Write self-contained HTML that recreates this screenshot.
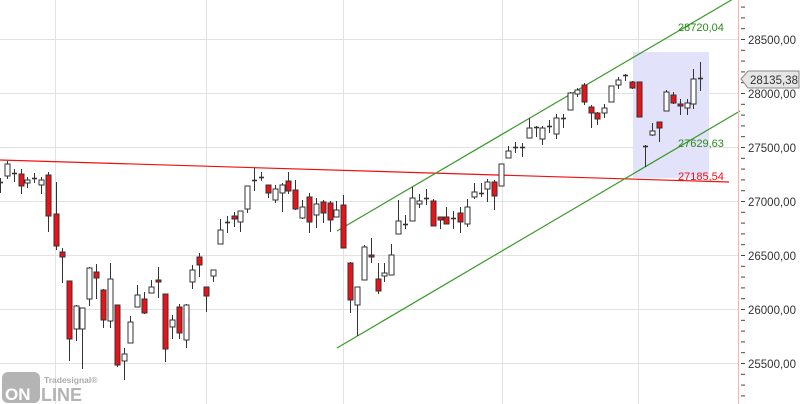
<!DOCTYPE html>
<html><head><meta charset="utf-8"><style>
body{margin:0;background:#fff;}
svg{display:block;font-family:"Liberation Sans",sans-serif;}
</style></head><body>
<svg id="c" width="800" height="404" viewBox="0 0 800 404" xmlns="http://www.w3.org/2000/svg">
<rect width="800" height="404" fill="#fff"/>
<g stroke="#e2e2e2" stroke-width="1">
<line x1="0" y1="39.5" x2="738" y2="39.5"/>
<line x1="0" y1="93.5" x2="738" y2="93.5"/>
<line x1="0" y1="147.5" x2="738" y2="147.5"/>
<line x1="0" y1="201.5" x2="738" y2="201.5"/>
<line x1="0" y1="255.5" x2="738" y2="255.5"/>
<line x1="0" y1="309.5" x2="738" y2="309.5"/>
<line x1="0" y1="363.5" x2="738" y2="363.5"/>
<line x1="55.5" y1="0" x2="55.5" y2="404"/>
<line x1="206.5" y1="0" x2="206.5" y2="404"/>
<line x1="343.5" y1="0" x2="343.5" y2="404"/>
<line x1="502.5" y1="0" x2="502.5" y2="404"/>
<line x1="638.5" y1="0" x2="638.5" y2="404"/>
</g>
<rect x="633" y="52" width="76" height="126" fill="#e2e2fa"/>
<line x1="0" y1="160" x2="729" y2="182" stroke="#f01010" stroke-width="1.2"/>
<line x1="337" y1="231" x2="745" y2="-8" stroke="#3a9a2a" stroke-width="1.2"/>
<line x1="337" y1="348" x2="740" y2="111" stroke="#3a9a2a" stroke-width="1.2"/>
<g id="cd"></g>
<line x1="738.5" y1="0" x2="738.5" y2="404" stroke="#f0b4b4"/>
<g id="tk" stroke="#444"></g>
<g font-size="11.5" fill="#333">
<text x="748" y="44">28500,00</text>
<text x="748" y="98">28000,00</text>
<text x="748" y="152">27500,00</text>
<text x="748" y="206">27000,00</text>
<text x="748" y="260">26500,00</text>
<text x="748" y="314">26000,00</text>
<text x="748" y="368">25500,00</text>
</g>
<path d="M741,79 L748,71 L799,71 L799,88 L748,88 Z" fill="#e6e6e6" stroke="#888"/>
<text x="750" y="84" font-size="11.5" fill="#333">28135,38</text>
<g font-size="11">
<text x="678" y="31" fill="#2a8a1a">28720,04</text>
<text x="678" y="147" fill="#2a8a1a">27629,63</text>
<text x="678" y="180" fill="#f01010">27185,54</text>
</g>
<rect x="2" y="372" width="38" height="31" rx="6" fill="#b4b4b4"/>
<text x="5" y="400" font-size="17" font-weight="bold" fill="#fff">ON</text>
<text x="41" y="401" font-size="18" font-weight="bold" fill="#b4b4b4">LINE</text>
<text x="44" y="383" font-size="8.5" font-weight="bold" fill="#aaa">Tradesignal®</text>
</svg>
<script>
var d=[
[0,182,184,178,193,0],[7,164,176,161,179,0],[14,173,173,169,182,0],[21,174,186,169,194,1],[27,180,183,177,188,0],[34,178,180,173,183,0],[41,180,185,177,194,0],[48,175,216,172,232,1],[56,214,246,182,250,1],[62,252,257,248,283,1],[69,281,339,281,361,1],[76,306,329,305,341,0],[82,308,329,308,369,0],[89,268,299,267,306,0],[96,272,278,264,299,1],[103,290,320,289,328,1],[110,279,321,263,328,0],[117,305,365,305,367,1],[124,354,361,348,380,0],[130,322,343,316,343,0],[137,295,307,285,307,0],[144,299,313,292,314,1],[151,287,293,280,293,0],[158,280,282,267,298,1],[165,294,349,294,362,1],[172,320,327,315,339,0],[179,307,333,304,339,1],[186,305,340,304,348,0],[192,270,282,265,289,0],[199,257,265,253,277,1],[206,287,296,287,312,1],[213,270,276,270,282,0],[220,230,244,219,244,0],[227,222,224,216,233,0],[234,216,219,212,227,1],[240,211,222,211,232,0],[247,186,209,186,213,0],[254,180,182,168,191,0],[261,177,179,172,181,0],[268,185,193,185,198,1],
[275,189,200,185,203,0],[282,185,193,183,212,0],[288,181,191,172,194,1],[295,190,209,180,210,1],[302,207,218,200,219,0],[309,197,222,193,233,1],[316,204,215,198,228,0],[323,202,213,200,223,1],[330,203,220,201,232,1],[336,210,217,201,217,0],[343,205,248,195,248,1],[350,263,300,262,313,1],[357,287,305,287,336,0],[364,247,280,245,280,0],[371,255,257,238,263,1],[378,279,291,263,294,1],[384,273,276,263,282,0],[391,255,275,244,275,0],[398,221,234,200,234,0],[405,224,226,215,229,0],[412,198,221,187,221,0],[419,201,204,194,208,0],[426,198,200,189,205,0],[433,201,226,199,226,1],[440,217,220,217,229,1],[446,217,224,207,224,1],[453,218,220,211,229,0],[460,213,222,207,233,1],[467,207,224,199,227,0],[474,192,197,183,199,0],[481,193,195,183,197,0],[487,182,189,179,202,0],[494,182,196,180,210,1],[501,164,186,164,186,0],
[508,151,158,146,158,0],[515,147,149,142,153,0],[522,147,149,143,157,0],[529,128,138,118,138,0],[536,127,129,126,137,0],[542,128,139,126,145,0],[549,126,128,120,133,0],[556,118,134,114,139,0],[563,118,120,114,128,0],[570,93,110,92,110,0],[577,90,94,88,97,0],[584,85,102,83,105,1],[591,107,113,105,128,1],[597,113,119,112,125,1],[604,108,113,104,118,0],[611,86,102,86,102,0],[618,80,85,77,89,0],[625,75,77,74,81,0],[632,82,88,81,89,1],[639,82,117,82,117,1],[645,146,148,145,167,0],[652,131,135,123,136,0],[659,122,128,122,142,1],[666,92,111,90,111,0],[673,95,103,92,104,1],[680,104,106,99,115,1],[687,103,108,99,115,0],[693,79,104,69,109,0],[700,78,80,62,91,0]];
var s='';
d.forEach(function(c){var x=c[0]+0.5;
s+='<line x1="'+x+'" y1="'+c[3]+'" x2="'+x+'" y2="'+c[4]+'" stroke="#333" stroke-width="1"/>';
var h=Math.max(c[2]-c[1],1);
if(h<=2&&!c[5]){s+='<line x1="'+(x-2.5)+'" y1="'+(c[1]+0.5)+'" x2="'+(x+2.5)+'" y2="'+(c[1]+0.5)+'" stroke="#333" stroke-width="1.6"/>';}
else s+='<rect x="'+(x-2.5)+'" y="'+c[1]+'" width="5" height="'+h+'" fill="'+(c[5]?'#ee1118':'#fff')+'" stroke="#333" stroke-width="1"/>';});
document.getElementById('cd').innerHTML=s;
var t='';for(var i=-10;i<45;i++){var y=39.5+i*10.8;if(y>0&&y<404)t+='<line x1="741" y1="'+y.toFixed(1)+'" x2="745" y2="'+y.toFixed(1)+'"/>';}
document.getElementById('tk').innerHTML=t;
</script>
</body></html>
